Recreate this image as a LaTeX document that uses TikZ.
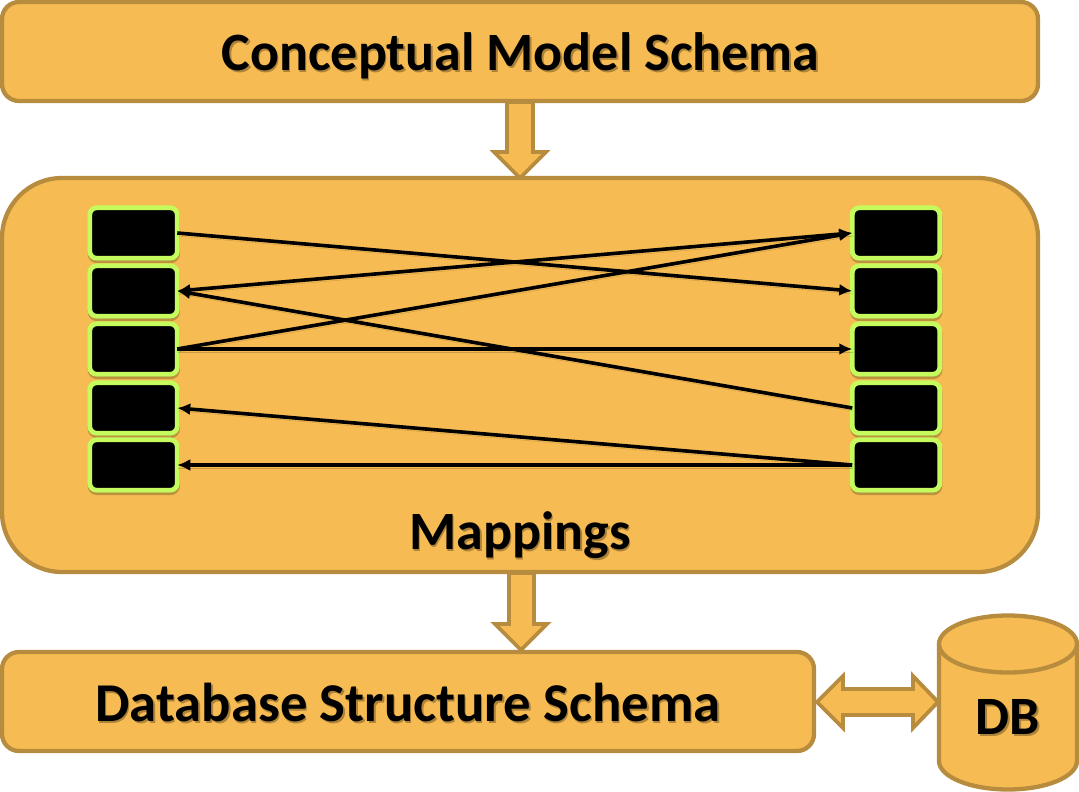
\documentclass[tikz,border=0pt]{standalone}
\usepackage{fontspec}
\setmainfont{Carlito}
\usetikzlibrary{shadows,arrows.meta}
\definecolor{fillor}{HTML}{F6BB52}
\definecolor{edgeor}{HTML}{B88C3F}
\definecolor{lime}{HTML}{C5FB5C}
\tikzset{
  x=1pt,y=-1pt,
  panel/.style={draw=edgeor,fill=fillor,line width=4.3pt,rounded corners=#1},
  blockarrow/.style={draw=edgeor,fill=fillor,line width=3.8pt,line join=miter},
  slot/.style={draw=lime,fill=black,line width=4.8pt,rounded corners=7pt,minimum width=87.5pt,minimum height=50.5pt,inner sep=0pt,outer sep=0pt,
     drop shadow={shadow xshift=.3pt,shadow yshift=-2.5pt,opacity=.22,fill=black,draw=black,line width=4.8pt}},
  title/.style={font=\bfseries\fontsize{54}{56}\selectfont,text=black,inner sep=0pt},
  titleshadow/.style={font=\bfseries\fontsize{54}{56}\selectfont,text=black!30!fillor,inner sep=0pt},
  link/.style={draw=black,line width=3.6pt,-{Latex[length=13pt,width=12pt]},
     preaction={draw=black,draw opacity=.18,-,transform canvas={xshift=.8pt,yshift=-3pt}}},
  twoway/.style={link,{Latex[length=13pt,width=12pt]}-{Latex[length=13pt,width=12pt]}},
}
\begin{document}
\begin{tikzpicture}
\useasboundingbox (0,0) rectangle (1079,792);
% block arrows
\draw[blockarrow] (507,102) -- (533,102) -- (533,152) -- (546,152) -- (520,178) -- (494,152) -- (507,152) -- cycle;
\draw[blockarrow] (509,573) -- (534,573) -- (534,624) -- (547,624) -- (521,650) -- (495,624) -- (509,624) -- cycle;
% panels
\path[panel=17pt] (2,2) rectangle (1038,101);
\path[panel=60pt] (2,178) rectangle (1038,572);
\path[panel=17pt] (2,652) rectangle (814,751);
\draw[blockarrow] (817,702) -- (843,676) -- (843,689) -- (913,689) -- (913,676) -- (938,702) -- (913,728) -- (913,715) -- (843,715) -- (843,728) -- cycle;
% cylinder
\draw[draw=edgeor,fill=fillor,line width=4.3pt] (939,644) arc[x radius=69,y radius=-28.5,start angle=180,end angle=0] -- (1077,761) arc[x radius=69,y radius=-28.5,start angle=0,end angle=-180] -- cycle;
\draw[draw=edgeor,line width=4.3pt] (939,644) arc[x radius=69,y radius=-28.5,start angle=180,end angle=360];
% titles
\node[titleshadow] at (522,58) {Conceptual Model Schema};
\node[title] (conceptual) at (520.5,56) {Conceptual Model Schema};
\node[titleshadow] at (521.5,537) {Mappings};
\node[title] (mappings) at (520,535) {Mappings};
\node[titleshadow,font=\bfseries\fontsize{54.7}{56}\selectfont] at (409.5,705) {Database Structure Schema};
\node[title,font=\bfseries\fontsize{54.7}{56}\selectfont] (database) at (408,703) {Database Structure Schema};
\node[titleshadow] at (1009.5,719) {DB};
\node[title] (db) at (1008,717) {DB};
% slots
\foreach \n/\y in {0/233,1/291,2/349,3/408,4/465}{
  \node[slot] (L\n) at (133.5,\y) {};
  \node[slot] (R\n) at (896,\y) {};
}
% connectors
\draw[link] (L0.east) -- (R1.west);
\draw[link] (L2.east) -- (R0.west);
\draw[twoway] (L1.east) -- (R0.west);
\draw[link] (R3.west) -- (L1.east);
\draw[link] (L2.east) -- (R2.west);
\draw[link] (R4.west) -- (L3.east);
\draw[link] (R4.west) -- (L4.east);
\end{tikzpicture}
\end{document}
